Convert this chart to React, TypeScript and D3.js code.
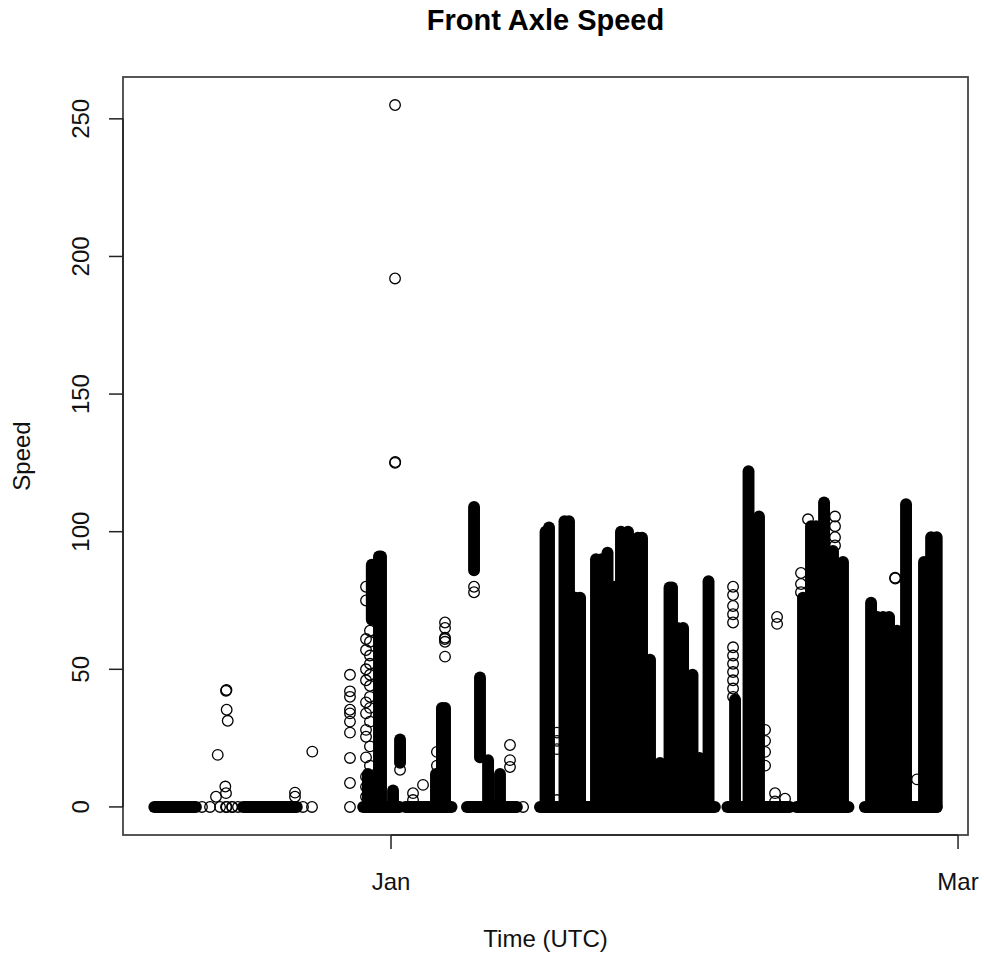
import React from "react";
import * as d3 from "d3";

// ---- data (days relative to 2017-01-01 UTC, speed) ----
const JAN1 = Date.UTC(2017, 0, 1);
const xTickDates = ["2017-01-01", "2017-03-01"];
const xTickLabels = ["Jan", "Mar"];
const yTicks = [0, 50, 100, 150, 200, 250];

// runs of readings sitting at speed 0: [startDay, endDay]
const zeroRuns: [number, number][] = [
  [-24.63, -20.3],
  [-15.4, -9.8],
  [-2.9, 0.9],
  [1.5, 6.3],
  [7.9, 13.1],
  [15.5, 33.7],
  [35.0, 41.5],
  [42.2, 47.6],
  [49.3, 56.78],
];

// dense bursts of readings: [day, lowSpeed, highSpeed]
const columns: [number, number, number][] = [
  [-1.25, 0, 91],
  [-1.04, 0, 91],
  [-2.0, 68, 88],
  [-2.4, 0, 12],
  [0.21, 0, 6],
  [0.94, 16, 24.5],
  [4.68, 0, 12],
  [5.3, 0, 36],
  [5.62, 0, 36],
  [8.64, 86, 109],
  [9.26, 18, 47],
  [10.1, 0, 17],
  [11.34, 0, 12],
  [16.08, 0, 100],
  [16.44, 0, 101.5],
  [18.05, 0, 103.8],
  [18.52, 0, 103.8],
  [19.2, 0, 76],
  [19.67, 0, 76],
  [21.33, 0, 90],
  [21.93, 0, 90],
  [22.53, 0, 92.4],
  [23.31, 0, 80],
  [23.93, 0, 100],
  [24.66, 0, 100],
  [25.7, 0, 97.8],
  [26.12, 0, 97.8],
  [26.95, 0, 53.5],
  [27.58, 0, 10],
  [27.99, 0, 16],
  [28.98, 0, 79.7],
  [29.24, 0, 79.7],
  [29.8, 0, 65],
  [30.39, 0, 65],
  [31.37, 0, 48],
  [32.1, 0, 17.8],
  [33.04, 0, 82],
  [35.8, 0, 39],
  [37.2, 0, 122],
  [38.29, 0, 105.5],
  [42.87, 0, 76],
  [43.7, 0, 102],
  [44.22, 0, 102],
  [45.06, 0, 110.6],
  [45.99, 0, 93],
  [47.03, 0, 89],
  [49.95, 0, 74.2],
  [50.6, 0, 69],
  [51.2, 0, 69],
  [51.82, 0, 69],
  [52.65, 0, 64],
  [53.59, 0, 110],
  [55.46, 0, 89],
  [56.2, 0, 98],
  [56.78, 0, 98],
];

// individual readings: [day, speed]
const points: [number, number][] = [
  [-19.67, 0], [-18.83, 0], [-17.79, 0], [-17.17, 0], [-17.1, 0], [-16.55, 0], [-16.5, 0], [-15.92, 0],
  [-9.16, 0], [-8.22, 0], [-4.27, 0], [13.74, 0],
  [-17.17, 42.2], [-17.12, 42.5], [-17.1, 35.3], [-16.99, 31.3], [-18.03, 18.9],
  [-17.24, 7.4], [-17.17, 5], [-18.21, 3.7], [-8.19, 20.1], [-9.99, 5.2], [-9.99, 3.7],
  [-4.27, 48], [-4.27, 42], [-4.27, 40], [-4.27, 35.3], [-4.27, 34], [-4.27, 31],
  [-4.27, 27], [-4.27, 17.8], [-4.27, 8.7],
  [-2.6, 80], [-2.6, 75], [-2.6, 61], [-2.6, 57], [-2.6, 50], [-2.6, 46], [-2.6, 38],
  [-2.6, 34], [-2.6, 28], [-2.6, 25.5], [-2.6, 18], [-2.6, 11], [-2.6, 7.3], [-2.6, 3.7],
  [-2.19, 64], [-2.19, 60], [-2.19, 55], [-2.19, 52], [-2.19, 48], [-2.19, 44], [-2.19, 40],
  [-2.19, 36], [-2.19, 31], [-2.19, 22], [-2.19, 15], [-2.19, 9], [-2.19, 5],
  [0.42, 255], [0.42, 192], [0.42, 125], [0.44, 125.3],
  [0.94, 13.5], [2.29, 5], [2.29, 2.5], [3.33, 8],
  [5.62, 67], [5.62, 65], [5.62, 61.5], [5.6, 61], [5.62, 60], [5.62, 54.6],
  [4.78, 20], [4.78, 15], [4.78, 10],
  [8.64, 80], [8.64, 78],
  [12.38, 22.5], [12.38, 17], [12.38, 14.5],
  [17.27, 27], [17.27, 24], [17.27, 21], [17.27, 2.5],
  [35.59, 80], [35.59, 77], [35.59, 73], [35.59, 70], [35.59, 67], [35.59, 58], [35.59, 55],
  [35.59, 52], [35.59, 49], [35.59, 46], [35.59, 43], [35.59, 40],
  [38.92, 28], [38.92, 24], [38.92, 20], [38.92, 15], [39.96, 5], [39.96, 2],
  [40.17, 69], [40.17, 66.5], [41.0, 3],
  [42.66, 85], [42.66, 81], [42.66, 78],
  [43.39, 104.5], [46.2, 105.5], [46.2, 102], [46.2, 98], [46.2, 95],
  [52.45, 83.3], [52.47, 83.0], [54.73, 10],
];

// ---- layout ----
const W = 984;
const H = 959;
const L = 123, R = 968, T = 77, B = 835;
const RAD = 5.3;
const SW = 1.3;
const FONT = "'Liberation Sans', Arial, Helvetica, sans-serif";

const toDate = (d: number) => new Date(JAN1 + d * 864e5);

export default function App() {
  const allDays = [
    ...zeroRuns.flat(),
    ...columns.map((c) => c[0]),
    ...points.map((p) => p[0]),
  ];
  const allSpeeds = [
    ...columns.flatMap((c) => [c[1], c[2]]),
    ...points.map((p) => p[1]),
  ];
  const [dMin, dMax] = d3.extent(allDays) as [number, number];
  const [sMin, sMax] = d3.extent(allSpeeds) as [number, number];
  const dPad = (dMax - dMin) * 0.04;
  const sPad = (sMax - sMin) * 0.04;

  const x = d3
    .scaleUtc()
    .domain([toDate(dMin - dPad), toDate(dMax + dPad)])
    .range([L, R]);
  const y = d3.scaleLinear().domain([sMin - sPad, sMax + sPad]).range([B, T]);

  const xt = xTickDates.map((s) => x(new Date(s + "T00:00:00Z")));
  const capW = 2 * RAD + SW;

  return (
    <svg
      width={W}
      height={H}
      style={{ position: "absolute", left: 0, top: 0, background: "#fff" }}
      fontFamily={FONT}
    >
      <rect x={0} y={0} width={W} height={H} fill="#fff" />
      <text x={(L + R) / 2} y={30} textAnchor="middle" fontSize={29} fontWeight="bold">
        Front Axle Speed
      </text>

      {/* data */}
      <g>
        {zeroRuns.map((r, i) => (
          <line
            key={"z" + i}
            x1={x(toDate(r[0]))}
            x2={x(toDate(r[1]))}
            y1={y(0)}
            y2={y(0)}
            stroke="#000"
            strokeWidth={capW}
            strokeLinecap="round"
          />
        ))}
        {columns.map((c, i) => (
          <line
            key={"c" + i}
            x1={x(toDate(c[0]))}
            x2={x(toDate(c[0]))}
            y1={y(c[1])}
            y2={y(c[2])}
            stroke="#000"
            strokeWidth={capW}
            strokeLinecap="round"
          />
        ))}
        {points.map((p, i) => (
          <circle
            key={"p" + i}
            cx={x(toDate(p[0]))}
            cy={y(p[1])}
            r={RAD}
            fill="none"
            stroke="#000"
            strokeWidth={SW}
          />
        ))}
      </g>

      {/* box */}
      <rect x={L} y={T} width={R - L} height={B - T} fill="none" stroke="#444" strokeWidth={1.8} />

      {/* y axis */}
      <line x1={L} x2={L} y1={y(yTicks[0])} y2={y(yTicks[yTicks.length - 1])} stroke="#222" strokeWidth={1.5} />
      {yTicks.map((t) => (
        <g key={"yt" + t}>
          <line x1={L} x2={L - 14} y1={y(t)} y2={y(t)} stroke="#222" strokeWidth={1.5} />
          <text
            transform={`translate(89,${y(t)}) rotate(-90)`}
            textAnchor="middle"
            fontSize={24}
            fill="#111"
          >
            {t}
          </text>
        </g>
      ))}

      {/* x axis */}
      <line x1={xt[0]} x2={xt[xt.length - 1]} y1={B} y2={B} stroke="#222" strokeWidth={1.5} />
      {xt.map((px, i) => (
        <g key={"xt" + i}>
          <line x1={px} x2={px} y1={B} y2={B + 14} stroke="#222" strokeWidth={1.5} />
          <text x={px} y={890} textAnchor="middle" fontSize={24} fill="#111">
            {xTickLabels[i]}
          </text>
        </g>
      ))}

      <text x={(L + R) / 2} y={947} textAnchor="middle" fontSize={24} fill="#111">
        Time (UTC)
      </text>
      <text
        transform={`translate(30,${(T + B) / 2}) rotate(-90)`}
        textAnchor="middle"
        fontSize={24}
        fill="#111"
      >
        Speed
      </text>
    </svg>
  );
}
